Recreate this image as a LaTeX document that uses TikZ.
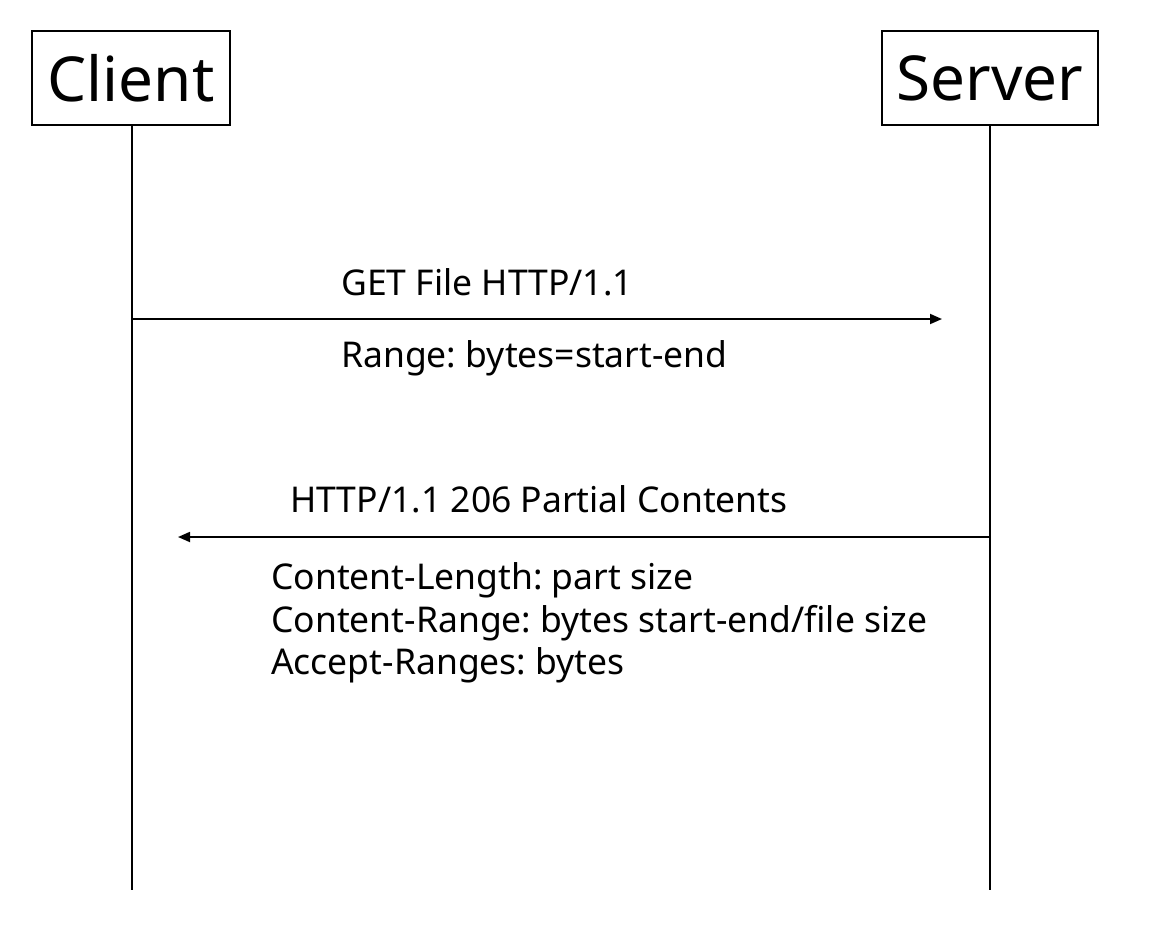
\documentclass[tikz,border=0pt]{standalone}
\usepackage{fontspec}
\setmainfont{Noto Sans}
\frenchspacing
\usetikzlibrary{arrows.meta}
\tikzset{
  actor/.style={draw, line width=1.8pt, minimum width=198pt, minimum height=94pt, inner sep=0pt, font=\fontsize{62}{66}\selectfont},
  life/.style={line width=1.8pt},
  msg/.style={line width=1.8pt, -{Triangle[length=12pt,width=10pt]}},
  lbl/.style={anchor=base west, inner sep=0pt, font=\fontsize{35.5}{42.5}\selectfont, align=left}
}
\begin{document}
\begin{tikzpicture}[x=1pt,y=-1pt]
\useasboundingbox (0,0) rectangle (1170,930);
\node[actor] (client) at (131,78) {Client};
\node[actor, minimum width=216pt] (server) at (990,78) {Server};
\coordinate (cend) at (132,890);
\coordinate (send) at (990,890);
\draw[life] (client.south -| cend) -- (cend);
\draw[life] (server.south -| send) -- (send);
\coordinate (m1s) at (132,319);
\coordinate (m1e) at (942,319);
\coordinate (m2s) at (990,537);
\coordinate (m2e) at (178,537);
\draw[msg] (m1s) -- (m1e);
\draw[msg] (m2s) -- (m2e);
\node[lbl] (l1) at (341,295) {GET File HTTP/1.1};
\node[lbl] (l2) at (341,367) {Range: bytes=start-end};
\node[lbl] (l3) at (290,512) {HTTP/1.1 206 Partial Contents};
\node[lbl] (l4) at (271,589) {Content-Length: part size};
\node[lbl] (l5) at (271,632) {Content-Range: bytes start-end/file size};
\node[lbl] (l6) at (271,674) {Accept-Ranges: bytes};
\end{tikzpicture}
\end{document}
